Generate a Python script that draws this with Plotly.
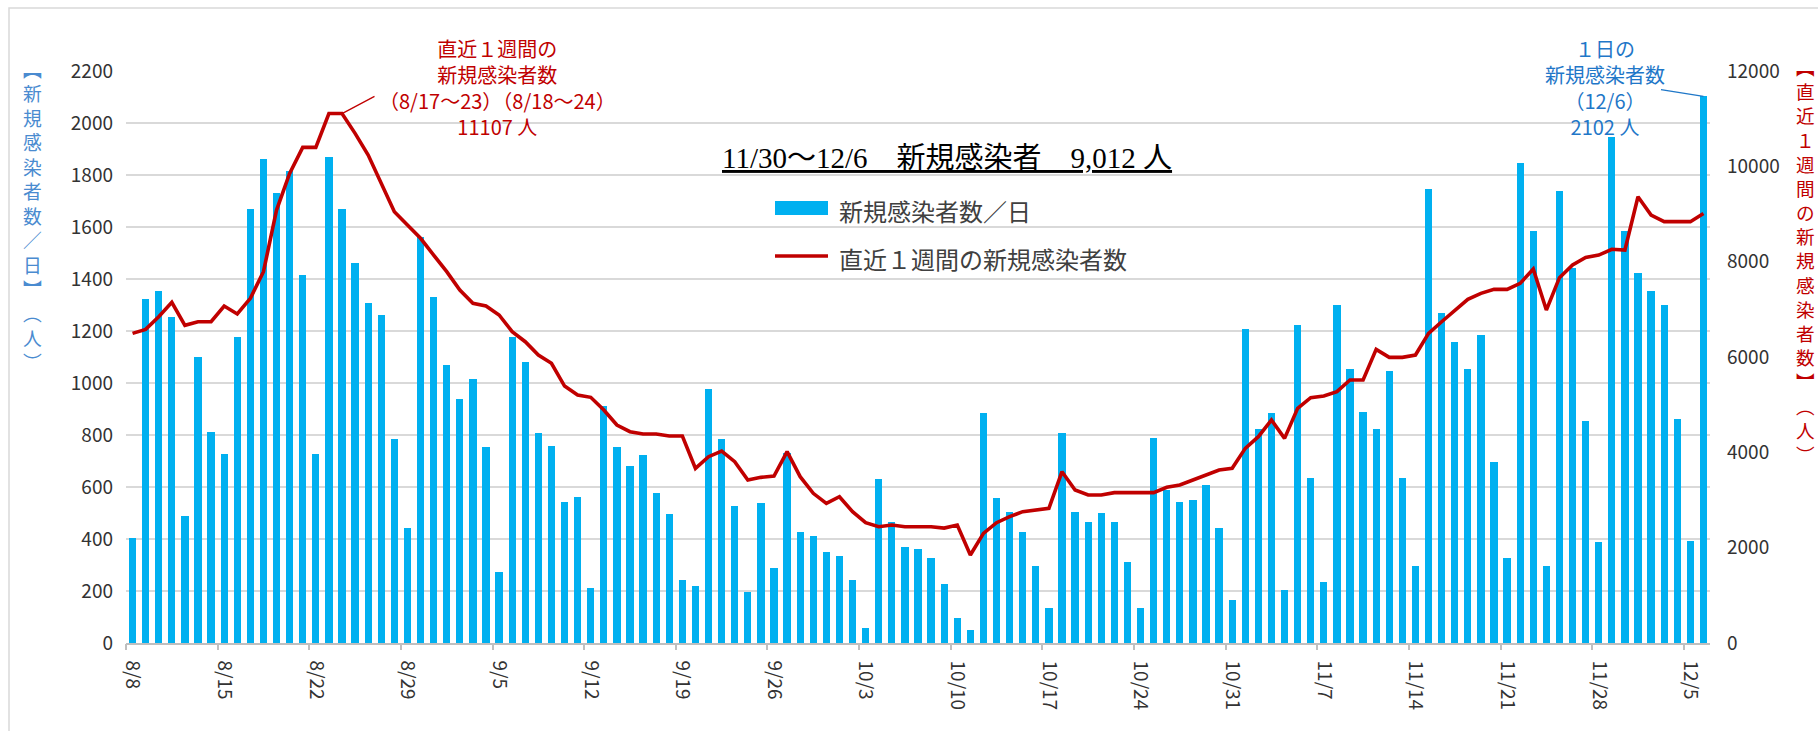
import pandas as pd
import plotly.graph_objects as go

# ---------------- data ----------------
start_date = "2022-08-08"
end_date = "2022-12-06"
dates = pd.date_range(start_date, end_date, freq="D")

# daily new cases (bars, left axis)
daily = [
    403, 1323, 1354, 1253, 490, 1099, 813, 728, 1176, 1668,
    1862, 1732, 1815, 1415, 728, 1868, 1668, 1460, 1306, 1262,
    783, 443, 1560, 1330, 1069, 937, 1014, 752, 275, 1176,
    1082, 806, 759, 543, 560, 211, 913, 752, 682, 722,
    576, 496, 242, 219, 976, 783, 527, 196, 537, 289,
    730, 428, 412, 351, 335, 242, 58, 630, 465, 368,
    361, 326, 226, 96, 50, 885, 558, 504, 428, 296,
    135, 806, 505, 467, 499, 467, 312, 135, 790, 590,
    543, 550, 606, 443, 165, 1208, 822, 883, 204, 1222,
    636, 235, 1300, 1053, 890, 822, 1046, 636, 296, 1745,
    1268, 1159, 1053, 1185, 697, 328, 1847, 1585, 296, 1738,
    1442, 854, 390, 1947, 1585, 1423, 1355, 1300, 862, 391,
    2102,
]

# new cases in the latest 7 days (line, right axis)
weekly = [
    6496, 6580, 6845, 7147, 6664, 6740, 6740, 7070, 6902, 7231,
    7790, 9083, 9853, 10398, 10398, 11107, 11107, 10692, 10237, 9643,
    9048, 8769, 8490, 8139, 7790, 7405, 7126, 7070, 6881, 6531,
    6321, 6041, 5867, 5391, 5202, 5154, 4888, 4573, 4433, 4384,
    4384, 4342, 4342, 3664, 3908, 4028, 3804, 3419, 3475, 3503,
    4014, 3489, 3140, 2930, 3069, 2755, 2524, 2440, 2475, 2440,
    2440, 2440, 2410, 2475, 1846, 2300, 2524, 2650, 2755, 2790,
    2825, 3594, 3210, 3105, 3105, 3154, 3154, 3154, 3154, 3266,
    3314, 3419, 3524, 3629, 3664, 4084, 4328, 4678, 4293, 4923,
    5146, 5181, 5272, 5517, 5517, 6160, 5993, 5993, 6041, 6496,
    6740, 6971, 7210, 7335, 7419, 7419, 7545, 7846, 6985, 7664,
    7930, 8090, 8139, 8259, 8244, 9363, 8979, 8839, 8839, 8839,
    9012,
]

tick_labels = ["8/8", "8/15", "8/22", "8/29", "9/5", "9/12", "9/19", "9/26",
               "10/3", "10/10", "10/17", "10/24", "10/31", "11/7", "11/14",
               "11/21", "11/28", "12/5"]
tick_dates = pd.to_datetime(["2022-" + t.replace("/", "-") for t in tick_labels])

left_ticks = [0, 200, 400, 600, 800, 1000, 1200, 1400, 1600, 1800, 2000, 2200]
right_ticks = [0, 2000, 4000, 6000, 8000, 10000, 12000]

peak_idx = 16           # 8/24 (8/18~24 window)
peak_val = 11107
last_val = 2102

bar_name = "新規感染者数／日"
line_name = "直近１週間の新規感染者数"
title_text = "11/30～12/6　新規感染者　9,012 人"
peak_note = ["直近１週間の", "新規感染者数", "（8/17～23）（8/18～24）", "11107 人"]
last_note = ["１日の", "新規感染者数", "（12/6）", "2102 人"]
left_title = "︻新規感染者数／日︼︵人︶"
right_title = "︻直近１週間の新規感染者数︼︵人︶"

# ---------------- styling ----------------
W, H = 1818, 731
L, T, R, B = 126, 71, 108, 88
PW, PH = W - L - R, H - T - B
BLUE_BAR = "#00B0F0"
RED = "#C00000"
NOTE_BLUE = "#1F77C8"
GRID = "#D9D9D9"
TXT = "#404040"
JP = "Noto Sans CJK JP"
HALF_DAY = pd.Timedelta(hours=12)
xr = [dates[0] - HALF_DAY, dates[-1] + HALF_DAY]


def X(p):
    return (p - L) / PW


def Y(p):
    return (T + PH - p) / PH


fig = go.Figure()
fig.add_trace(go.Bar(
    x=dates, y=daily, name=bar_name, marker_color=BLUE_BAR,
    marker_line_width=0, width=0.55 * 86400000, xaxis="x", yaxis="y",
))
fig.add_trace(go.Scatter(
    x=dates, y=weekly, name=line_name, mode="lines",
    line=dict(color=RED, width=3.6), xaxis="x2", yaxis="y2",
))

annotations = []

# title
annotations.append(dict(
    text="<u>" + title_text + "</u>", xref="paper", yref="paper",
    x=X(947), y=Y(158), xanchor="center", yanchor="middle", showarrow=False,
    font=dict(family="Liberation Serif, " + JP, size=29, color="#000000"),
))

# peak note (red) and last-day note (blue)
annotations.append(dict(
    text="<br>".join(peak_note), xref="paper", yref="paper",
    x=X(497), y=Y(87.5), xanchor="center", yanchor="middle", align="center",
    showarrow=False, font=dict(family=JP, size=20, color=RED),
))
annotations.append(dict(
    text="<br>".join(last_note), xref="paper", yref="paper",
    x=X(1605), y=Y(87), xanchor="center", yanchor="middle", align="center",
    showarrow=False, font=dict(family=JP, size=20, color=NOTE_BLUE),
))

# pointer lines
annotations.append(dict(
    text=" ", x=dates[peak_idx], y=peak_val, xref="x2", yref="y2",
    showarrow=True, arrowhead=0, arrowwidth=1.3, arrowcolor=RED,
    ax=34, ay=-18, font=dict(size=2),
))
annotations.append(dict(
    text=" ", x=dates[-1], y=last_val, xref="x", yref="y",
    showarrow=True, arrowhead=0, arrowwidth=1.3, arrowcolor=NOTE_BLUE,
    ax=-44, ay=-7, font=dict(size=2),
))

# vertical axis titles (upright glyphs stacked)
annotations.append(dict(
    text="<br>".join(left_title), xref="paper", yref="paper",
    x=X(32), y=Y(214.6), xanchor="center", yanchor="middle", align="center",
    showarrow=False, font=dict(family=JP, size=18.8, color="#4A8BD0"),
))
annotations.append(dict(
    text="<br>".join(right_title), xref="paper", yref="paper",
    x=X(1805), y=Y(259.7), xanchor="center", yanchor="middle", align="center",
    showarrow=False, font=dict(family=JP, size=18.6, color=RED),
))

# manual legend
annotations.append(dict(
    text=bar_name, xref="paper", yref="paper", x=X(837), y=Y(210),
    xanchor="left", yanchor="middle", showarrow=False,
    font=dict(family=JP, size=24, color=TXT),
))
annotations.append(dict(
    text=line_name, xref="paper", yref="paper", x=X(837), y=Y(258),
    xanchor="left", yanchor="middle", showarrow=False,
    font=dict(family=JP, size=24, color=TXT),
))

shapes = [
    dict(type="rect", xref="paper", yref="paper", x0=X(775), x1=X(828),
         y0=Y(215), y1=Y(201), fillcolor=BLUE_BAR, line=dict(width=0)),
    dict(type="line", xref="paper", yref="paper", x0=X(775), x1=X(828),
         y0=Y(256), y1=Y(256), line=dict(color=RED, width=3.6)),
    dict(type="rect", xref="paper", yref="paper", x0=X(9), x1=X(1830),
         y0=Y(745), y1=Y(8), line=dict(color="#D9D9D9", width=1.5),
         fillcolor="rgba(0,0,0,0)", layer="below"),
]

fig.update_layout(
    template="none",
    width=W, height=H,
    margin=dict(l=L, r=R, t=T, b=B, pad=0),
    paper_bgcolor="white", plot_bgcolor="white",
    showlegend=False,
    bargap=0,
    font=dict(family=JP, color=TXT),
    xaxis=dict(
        type="date", range=xr, tickmode="array", tickvals=tick_dates,
        ticktext=tick_labels, tickangle=90, ticks="", showgrid=False,
        showline=True, linecolor="#BFBFBF", linewidth=1.5, zeroline=False,
        tickfont=dict(family=JP, size=19, color="#333333"),
        ticklabelstandoff=12, automargin=False, fixedrange=True,
    ),
    xaxis2=dict(
        type="date", range=xr, overlaying="x", anchor="y2", side="bottom",
        tickmode="array", tickvals=[d - HALF_DAY for d in tick_dates],
        ticks="outside", ticklen=6, tickwidth=1.5, tickcolor="#BFBFBF",
        showticklabels=False, showgrid=False, showline=False,
        zeroline=False, automargin=False,
    ),
    yaxis=dict(
        range=[0, 2200], tickmode="array", tickvals=left_ticks,
        tickformat="d",
        showgrid=True, gridcolor=GRID, gridwidth=1.5, zeroline=False,
        showline=False, ticks="", ticklabelstandoff=12,
        tickfont=dict(family=JP, size=19, color="#333333"),
        automargin=False,
    ),
    yaxis2=dict(
        range=[0, 12000], tickmode="array", tickvals=right_ticks,
        tickformat="d",
        overlaying="y", side="right", anchor="x2", showgrid=False,
        zeroline=False, showline=False, ticks="", ticklabelstandoff=16,
        tickfont=dict(family=JP, size=19, color="#333333"),
        automargin=False,
    ),
    annotations=annotations,
    shapes=shapes,
)

fig.write_html(
    "out.html",
    config={"displayModeBar": False},
    post_script="document.body.style.margin='0';document.body.style.overflow='hidden';",
)
